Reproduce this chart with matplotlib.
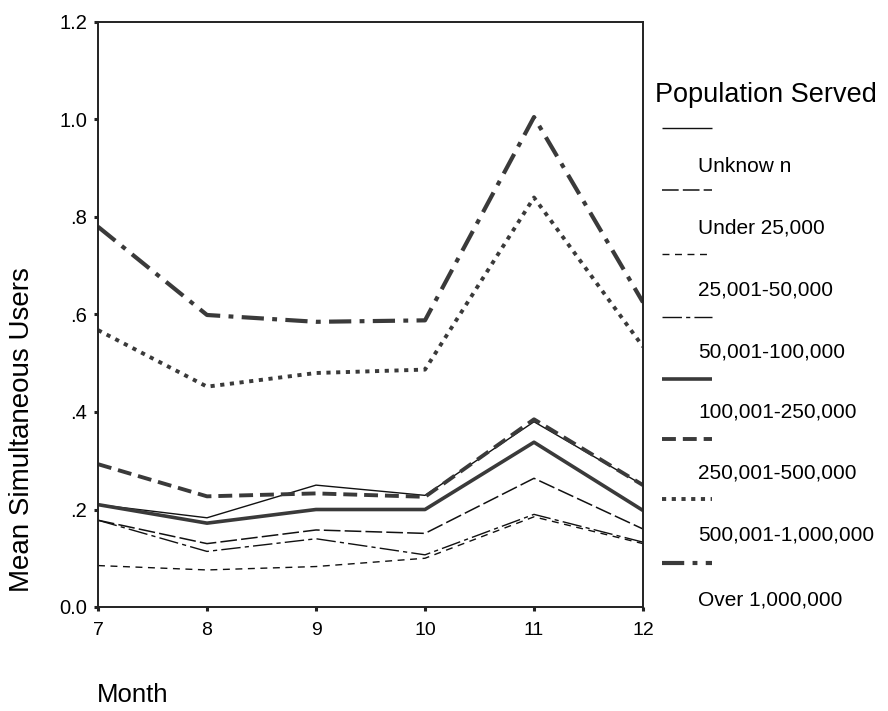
import matplotlib
matplotlib.use("Agg")
import matplotlib.pyplot as plt
from matplotlib.lines import Line2D

plt.rcParams['font.family'] = ['Liberation Sans', 'DejaVu Sans']
plt.rcParams['lines.scale_dashes'] = False

months = [7, 8, 9, 10, 11, 12]
categories = ["Unknow n", "Under 25,000", "25,001-50,000", "50,001-100,000",
              "100,001-250,000", "250,001-500,000", "500,001-1,000,000", "Over 1,000,000"]

unknown = [0.21, 0.183, 0.25, 0.229, 0.38, 0.25]
under_25k = [0.178, 0.13, 0.158, 0.151, 0.264, 0.16]
pop_25k_50k = [0.085, 0.076, 0.083, 0.10, 0.185, 0.13]
pop_50k_100k = [0.178, 0.114, 0.14, 0.107, 0.19, 0.133]
pop_100k_250k = [0.21, 0.172, 0.20, 0.20, 0.338, 0.198]
pop_250k_500k = [0.293, 0.227, 0.233, 0.226, 0.385, 0.25]
pop_500k_1m = [0.568, 0.452, 0.48, 0.487, 0.84, 0.534]
over_1m = [0.78, 0.599, 0.585, 0.588, 1.005, 0.625]

series = [unknown, under_25k, pop_25k_50k, pop_50k_100k,
          pop_100k_250k, pop_250k_500k, pop_500k_1m, over_1m]

yticks = [0.0, 0.2, 0.4, 0.6, 0.8, 1.0, 1.2]
ytick_labels = ["0.0", ".2", ".4", ".6", ".8", "1.0", "1.2"]

styles = [
    dict(color="#111111", lw=1.0, ls="-"),
    dict(color="#111111", lw=1.1, dashes=(12, 3)),
    dict(color="#111111", lw=1.0, dashes=(5, 4)),
    dict(color="#111111", lw=1.0, dashes=(14, 3, 3, 3)),
    dict(color="#3a3a3a", lw=2.6, ls="-"),
    dict(color="#3a3a3a", lw=2.8, dashes=(10, 5)),
    dict(color="#3a3a3a", lw=2.8, dashes=(3, 4)),
    dict(color="#3a3a3a", lw=3.0, dashes=(16, 6, 3.5, 6)),
]

fig = plt.figure(figsize=(8.88, 7.11), dpi=100)
ax = fig.add_axes([98/888, 1-607/711, (643-98)/888, (607-22)/711])

for vals, st in zip(series, styles):
    ax.plot(months, vals, solid_capstyle="butt", dash_capstyle="butt", **st)

ax.set_xlim(7, 12)
ax.set_ylim(0, 1.2)
ax.set_xticks(months)
ax.set_xticklabels([str(m) for m in months], fontsize=14)
ax.set_yticks(yticks)
ax.set_yticklabels(ytick_labels, fontsize=14.5)
ax.tick_params(direction="out", length=3, width=2.2, color="#222222")
ax.tick_params(axis="x", pad=8)
ax.tick_params(axis="y", pad=5)
for s in ax.spines.values():
    s.set_linewidth(1.4)
    s.set_color("#222222")

fig.text(22/888, 1-430/711, "Mean Simultaneous Users", rotation=90,
         fontsize=20, va="center", ha="center")
fig.text(97/888, 1-695/711, "Month", fontsize=18.5, va="center", ha="left")

# legend drawn manually
fig.text(655/888, 1-95/711, "Population Served", fontsize=19.5, va="center", ha="left")
line_y = [128, 190, 254, 317, 379, 439, 499, 563]
label_y = [166, 228, 290, 352, 412, 473, 535, 600]
for i, (lab, st) in enumerate(zip(categories, styles)):
    y = 1 - line_y[i]/711
    l = Line2D([662/888, 712/888], [y, y], transform=fig.transFigure,
               solid_capstyle="butt", dash_capstyle="butt", **st)
    fig.add_artist(l)
    fig.text(698/888, 1-label_y[i]/711, lab, fontsize=15, va="center", ha="left")

fig.savefig("out.png", dpi=100)
